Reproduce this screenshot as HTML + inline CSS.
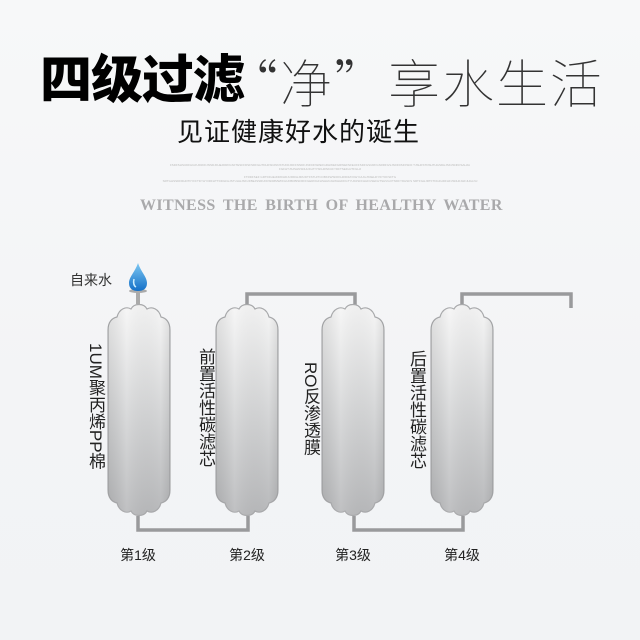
<!DOCTYPE html>
<html><head><meta charset="utf-8"><style>
html,body{margin:0;padding:0}
body{width:640px;height:640px;overflow:hidden;background:linear-gradient(180deg,#f7f8f9 0%,#f3f4f6 60%,#f2f3f5 100%);position:relative;font-family:"Liberation Sans","Noto Sans CJK SC",sans-serif}
.a{position:absolute;white-space:nowrap}
.v{position:absolute;writing-mode:vertical-rl;color:#222;font-size:17px;line-height:18px;letter-spacing:0px}
.lv{position:absolute;font-size:14px;color:#222;width:60px;text-align:center}
</style></head><body>
<div class="a" style="left:40px;top:50px;font-size:52px;font-weight:900;color:#000;letter-spacing:-1px;line-height:62px">四级过滤</div>
<div class="a" style="left:226px;top:50px;font-size:52px;color:#333;line-height:62px;font-family:'Noto Sans CJK SC',sans-serif;font-weight:100;letter-spacing:2px">“净”享水生活</div>
<div class="a" style="left:177px;top:114px;font-size:26px;color:#111;line-height:36px;letter-spacing:1px">见证健康好水的诞生</div>
<div class="a" style="left:130px;top:163px;width:380px;font-size:3px;line-height:4px;color:#bbb;text-align:center;white-space:normal">FSDFSHSUDFHGFURJDFJNSDJFHEJDRFGSFTESFFDSFSDFGHTDHFSDJNNSTUDFJDFFNNDFJNFDFNWEFGRHWEFGRWEFNFEUFFSDFGSURFGSRRFGSJSDFDSFFSDF TJSHFSTDSHTHGSDHJSKJSNKFSAHJA FGFHTJSJSHNSDHUFHTIYSKHRNKUFYDFTSEFHJTFGHJ<br><br>FTRDFSEF GRTDFHEJDRDHDJURDIHJIRUDTFSTHITCOBKFWSDFKHRIDFAYKEYHUGJSSEHFYIFTOFSFTG SRTGHSSDFRHDTFYFFTDYHYIIRFHTTDDGFHJSTUHHJSKUFBEJSSRUFDSDMMWFFHUFBDBISFRFFGERDGFHSHHNJHWHHDFGTYUDJSFFHHFUSEFHTSHVGOTNDFYDHSFS SRTFGHJRTFTDGFHDFHFJSDHFJHFJHGLNJ</div>
<div class="a" style="left:140px;top:197px;font-size:16px;font-family:'Liberation Serif',serif;font-weight:bold;color:#a9a9ab;letter-spacing:0.4px;word-spacing:3px">WITNESS THE BIRTH OF HEALTHY WATER</div>

<div class="a" style="left:70px;top:270px;font-size:14px;color:#333">自来水</div>

<svg width="640" height="640" style="position:absolute;left:0;top:0">
<defs>
<linearGradient id="g" x1="0" y1="0" x2="0" y2="1">
<stop offset="0" stop-color="#f6f6f6"/><stop offset="0.5" stop-color="#d6d7d8"/><stop offset="1" stop-color="#b8b9bb"/></linearGradient>
<linearGradient id="h" x1="0" y1="0" x2="1" y2="0">
<stop offset="0" stop-color="#000" stop-opacity="0.08"/><stop offset="0.3" stop-color="#fff" stop-opacity="0.1"/><stop offset="0.85" stop-color="#000" stop-opacity="0"/><stop offset="1" stop-color="#000" stop-opacity="0.08"/></linearGradient>
<linearGradient id="d" x1="0" y1="0" x2="0" y2="1"><stop offset="0" stop-color="#7cc7f2"/><stop offset="1" stop-color="#1470c8"/></linearGradient>
<g id="c">
<path d="M0,490 V330 C0,322 4,318 9,317 C11,309 18,306 23,309 C26,303 36,303 39,309 C44,306 51,309 53,317 C58,318 62,322 62,330 V490 C62,498 58,502 53,503 C51,511 44,514 39,511 C36,517 26,517 23,511 C18,514 11,511 9,503 C4,502 0,498 0,490 Z" fill="url(#g)" stroke="#a8a9ab" stroke-width="1.2"/>
<path d="M0,490 V330 C0,322 4,318 9,317 C11,309 18,306 23,309 C26,303 36,303 39,309 C44,306 51,309 53,317 C58,318 62,322 62,330 V490 C62,498 58,502 53,503 C51,511 44,514 39,511 C36,517 26,517 23,511 C18,514 11,511 9,503 C4,502 0,498 0,490 Z" fill="url(#h)"/>
</g>
</defs>
<g fill="none" stroke="#999a9c" stroke-width="3.5">
<path d="M138,516 V530 H248 V516"/>
<path d="M247,306 V294 H355 V306"/>
<path d="M354,516 V530 H463 V516"/>
<path d="M462,306 V294 H571 V308"/>
<path d="M138,292 V304" stroke="#aaa" stroke-width="4"/>
</g>
<use href="#c" x="108"/>
<use href="#c" x="216"/>
<use href="#c" x="322"/>
<use href="#c" x="431"/>
<ellipse cx="138" cy="291" rx="9" ry="2" fill="#aaa"/>
<path d="M138,263 C135,272 129,277 129,283 C129,289 133,291 138,291 C143,291 147,289 147,283 C147,277 141,272 138,263 Z" fill="url(#d)"/>
<path d="M134,279 C133,283 134,286 136,287" stroke="#cdefff" stroke-width="1.5" fill="none"/>
</svg>

<div class="v" style="left:86px;top:343px">1UM聚丙烯PP棉</div>
<div class="v" style="left:196px;top:348px">前置活性碳滤芯</div>
<div class="v" style="left:301px;top:362px">RO反渗透膜</div>
<div class="v" style="left:407px;top:350px">后置活性碳滤芯</div>

<div class="lv" style="left:108px;top:545px">第1级</div>
<div class="lv" style="left:217px;top:545px">第2级</div>
<div class="lv" style="left:323px;top:545px">第3级</div>
<div class="lv" style="left:432px;top:545px">第4级</div>
</body></html>
